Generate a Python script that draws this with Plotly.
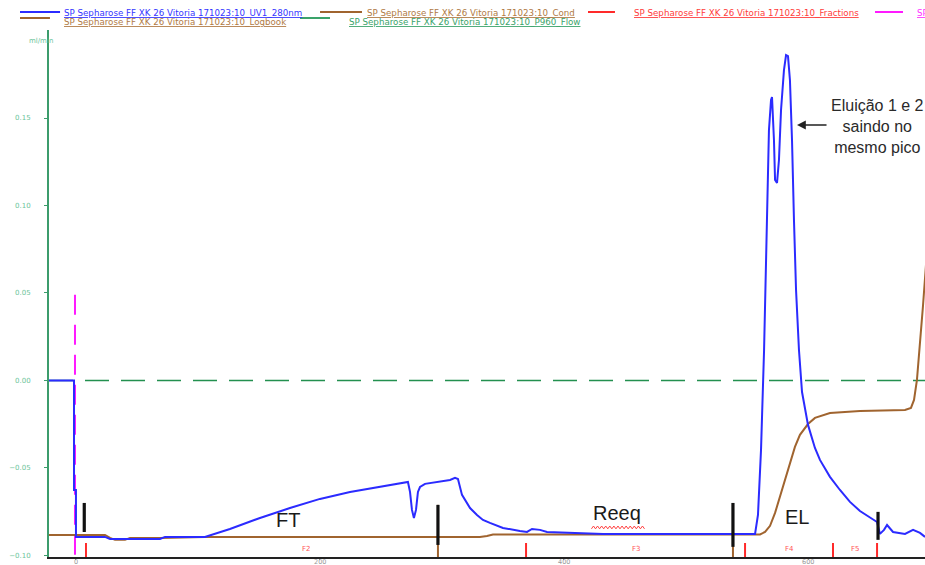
import plotly.graph_objects as go

# ---------------- run data (volume in ml, signal in axis units) ----------------
uv_ml = [-22.1, -1.6, -1.6, 0.0, 0.0, 23.8, 27.9, 68.9, 73.0, 105.7, 126.2, 150.8,
         175.4, 200.0, 224.6, 249.2, 265.6, 272.1, 273.8, 275.4, 277.0, 278.7, 280.3,
         282.0, 286.1, 298.4, 306.6, 310.7, 313.1, 316.4, 323.0, 328.7, 333.6, 339.3,
         350.0, 363.9, 369.7, 373.8, 380.3, 386.1, 415.6, 432.0, 533.6, 556.6, 559.0,
         561.5, 564.0, 565.6, 567.2, 568.0, 569.7, 570.5, 572.1, 573.0, 574.6, 576.2,
         577.9, 580.3, 582.0, 583.6, 585.2, 586.9, 588.5, 590.2, 592.6, 595.1, 600.0,
         605.7, 609.8, 618.0, 626.2, 634.4, 642.6, 650.8, 656.6, 659.0, 662.3, 664.8,
         667.2, 669.7, 679.5, 686.1, 691.8, 695.9]
uv_val = [0.0, 0.0, -0.0626, -0.0626, -0.0894, -0.0894, -0.0906, -0.0906, -0.0894,
          -0.0894, -0.0849, -0.0786, -0.0729, -0.0677, -0.0637, -0.0609, -0.0591,
          -0.0580, -0.0637, -0.0740, -0.0786, -0.0740, -0.0637, -0.0609, -0.0591,
          -0.0580, -0.0569, -0.0557, -0.0563, -0.0654, -0.0729, -0.0769, -0.0797,
          -0.0814, -0.0843, -0.0860, -0.0866, -0.0849, -0.0854, -0.0866, -0.0871,
          -0.0877, -0.0877, -0.0877, -0.0769, -0.0397, 0.0174, 0.0689, 0.1089, 0.1431,
          0.1603, 0.1620, 0.1374, 0.1146, 0.1129, 0.1260, 0.1546, 0.1774, 0.1860,
          0.1854, 0.1717, 0.1374, 0.0917, 0.0517, 0.0174, -0.0066, -0.0254, -0.0386,
          -0.0454, -0.0551, -0.0626, -0.0694, -0.0746, -0.0786, -0.0809, -0.0877,
          -0.0854, -0.0826, -0.0843, -0.0866, -0.0877, -0.0854, -0.0871, -0.0894]

cond_ml = [-22.1, 23.8, 27.9, 32.0, 40.2, 44.3, 68.9, 105.7, 331.1, 336.9, 341.8, 560.7,
           564.8, 568.9, 573.0, 577.0, 581.1, 585.2, 589.3, 593.4, 600.0, 605.7, 618.0,
           642.6, 679.5, 684.4, 686.9, 689.3, 691.8, 694.3, 696.7]
cond_val = [-0.0883, -0.0883, -0.0900, -0.0911, -0.0911, -0.0900, -0.0900, -0.0894,
            -0.0894, -0.0889, -0.0880, -0.0880, -0.0866, -0.0831, -0.0757, -0.0666,
            -0.0563, -0.0466, -0.0380, -0.0311, -0.0249, -0.0214, -0.0186, -0.0174,
            -0.0169, -0.0157, -0.0111, 0.0003, 0.0203, 0.0431, 0.0660]

flow_ml = [-22.1, 696.0]
flow_val = [0.0, 0.0]

inject_ml = -0.8
inject_top = 0.049

logbook_ml = [296.7, 538.5]
logbook_top = -0.0711

fraction_ml = [8.2, 368.9, 548.4, 620.5, 656.6]
fraction_names = ["F2", "F3", "F4", "F5"]
fraction_top = -0.0929

# short hand-drawn step markers: (position, low, high)
step_ml = [6.8, 296.7, 538.5, 657.4]
step_low = [-0.0866, -0.0940, -0.0951, -0.0911]
step_high = [-0.0700, -0.0711, -0.0700, -0.0751]

region_names = ["FT", "Reeq", "EL"]
region_ml = [173.8, 443.4, 591.0]
region_val = [-0.0800, -0.0760, -0.0780]

x_ticks = [0, 200, 400, 600]
x_tick_text = ["0", "200", "400", "600"]
y_ticks = [-0.10, -0.05, 0.00, 0.05, 0.10, 0.15]

X_RANGE = [-22.1, 695.9]
Y_RANGE = [-0.1009, 0.2003]

run = "SP Sepharose FF XK 26 Vitoria 171023:10"
series_labels = [
    ("_UV1_280nm", "#3535ff"),
    ("_Logbook", "#b07a45"),
    ("_Cond", "#b07a45"),
    ("_P960_Flow", "#3aa36a"),
    ("_Fractions", "#ff3b3b"),
    ("_Inject", "#ff33ff"),
]

BLUE = "#2b2bff"
BROWN = "#a0642f"
GREEN = "#23904f"
AXIS_GREEN = "#3c9c6c"
RED = "#ff2a2a"
MAGENTA = "#ff1aff"

fig = go.Figure()

# flow (dashed green)
fig.add_trace(go.Scatter(x=flow_ml, y=flow_val, mode="lines",
                         line=dict(color=GREEN, width=1.6, dash="24px,12px"),
                         hoverinfo="skip"))
# injection mark
fig.add_trace(go.Scatter(x=[inject_ml, inject_ml], y=[inject_top, Y_RANGE[0]], mode="lines",
                         line=dict(color=MAGENTA, width=2, dash="20px,10px"),
                         hoverinfo="skip"))
# logbook events
lx, ly = [], []
for v in logbook_ml:
    lx += [v, v, None]
    ly += [Y_RANGE[0], logbook_top, None]
fig.add_trace(go.Scatter(x=lx, y=ly, mode="lines", line=dict(color=BROWN, width=2),
                         hoverinfo="skip"))
# conductivity
fig.add_trace(go.Scatter(x=cond_ml, y=cond_val, mode="lines",
                         line=dict(color=BROWN, width=2), hoverinfo="skip"))
# UV 280 nm
fig.add_trace(go.Scatter(x=uv_ml, y=uv_val, mode="lines",
                         line=dict(color=BLUE, width=2), hoverinfo="skip"))
# fraction boundaries
fx, fy = [], []
for v in fraction_ml:
    fx += [v, v, None]
    fy += [Y_RANGE[0], fraction_top, None]
fig.add_trace(go.Scatter(x=fx, y=fy, mode="lines", line=dict(color=RED, width=2),
                         hoverinfo="skip"))
# step markers
sx, sy = [], []
for v, lo, hi in zip(step_ml, step_low, step_high):
    sx += [v, v, None]
    sy += [lo, hi, None]
fig.add_trace(go.Scatter(x=sx, y=sy, mode="lines", line=dict(color="#111111", width=3.2),
                         hoverinfo="skip"))

annotations = []
shapes = []

# volume labels sit tight under the axis line
for v, t in zip(x_ticks, x_tick_text):
    annotations.append(dict(x=v, y=0, xref="x", yref="paper", text=t, showarrow=False,
                            yanchor="top", yshift=0, borderpad=0,
                            font=dict(family="DejaVu Sans", size=6.5, color="#999999")))

# fraction names centred between boundaries
for name, a, b in zip(fraction_names, fraction_ml[:-1], fraction_ml[1:]):
    annotations.append(dict(x=(a + b) / 2, y=-0.0963, xref="x", yref="y", text=name,
                            showarrow=False, font=dict(family="DejaVu Sans", size=7, color="#ff5555")))

# region names
for name, xv, yv in zip(region_names, region_ml, region_val):
    annotations.append(dict(x=xv, y=yv, xref="x", yref="y", text=name, showarrow=False,
                            font=dict(family="Liberation Sans", size=20, color="#1a1a1a")))

# spell-check squiggle under "Reeq"
sq_x0, sq_x1, sq_y = 422.5, 466.0, -0.0840
n_seg = 26
pts = []
for i in range(n_seg + 1):
    px = sq_x0 + (sq_x1 - sq_x0) * i / n_seg
    py = sq_y + (0.0008 if i % 2 else -0.0008)
    pts.append(f"{px:.2f},{py:.5f}")
shapes.append(dict(type="path", xref="x", yref="y", path="M" + " L".join(pts),
                   line=dict(color="#ff4040", width=1)))

# peak note with arrow
annotations.append(dict(x=656.6, y=0.1452, xref="x", yref="y",
                        text="Eluição 1 e 2<br>saindo no<br>mesmo pico", showarrow=False,
                        align="center", xanchor="center", yanchor="middle",
                        font=dict(family="Liberation Sans", size=16, color="#2a2a2a")))
annotations.append(dict(x=591.0, y=0.146, xref="x", yref="y", text="", showarrow=True,
                        ax=31, ay=0, arrowhead=2, arrowsize=1.1, arrowwidth=1.6,
                        arrowcolor="#222222"))

# axis unit
annotations.append(dict(x=-0.025, y=0.9905, xref="paper", yref="paper", text="ml/min",
                        showarrow=False, font=dict(family="DejaVu Sans", size=7, color="#6cc49a")))

# curve key along the top
key_lines = [  # (x0, x1, y, colour)
    (-0.0331, 0.0126, 1.0342, BLUE),
    (-0.0331, 0.0011, 1.0228, BROWN),
    (0.3094, 0.3573, 1.0342, BROWN),
    (0.2865, 0.3208, 1.0228, "#3aa36a"),
    (0.6153, 0.6461, 1.0342, RED),
    (0.9429, 0.9749, 1.0342, MAGENTA),
]
for x0, x1, yv, c in key_lines:
    shapes.append(dict(type="line", xref="paper", yref="paper", x0=x0, x1=x1, y0=yv, y1=yv,
                       line=dict(color=c, width=2)))
key_text_pos = [(0.0148, 1.0323), (0.0148, 1.0161), (0.3607, 1.0323),
                (0.3402, 1.0161), (0.6655, 1.0323), (0.9886, 1.0323)]
for (suffix, c), (xv, yv) in zip(series_labels, key_text_pos):
    annotations.append(dict(x=xv, y=yv, xref="paper", yref="paper", text=run + suffix,
                            showarrow=False, xanchor="left", yanchor="middle",
                            font=dict(family="DejaVu Sans", size=8.7, color=c,
                                      lineposition="under")))

fig.update_layout(
    width=925, height=565,
    margin=dict(l=49, r=0, t=30, b=8, autoexpand=False),
    template="none",
    paper_bgcolor="white", plot_bgcolor="white",
    showlegend=False,
    annotations=annotations,
    shapes=shapes,
    xaxis=dict(range=X_RANGE, tickvals=x_ticks, showticklabels=False, showgrid=False,
               zeroline=False, showline=True, linecolor="#222222", linewidth=2,
               ticks="outside", ticklen=1, tickcolor="#888888", automargin=False),
    yaxis=dict(range=Y_RANGE, tickvals=y_ticks, tickformat=".2f", showgrid=False,
               zeroline=False, showline=True, linecolor=AXIS_GREEN, linewidth=2,
               ticks="outside", ticklen=3, tickcolor=AXIS_GREEN, automargin=False,
               ticklabelstandoff=12,
               tickfont=dict(family="DejaVu Sans", size=7, color="#6cc49a")),
)

fig.write_html("out.html")
